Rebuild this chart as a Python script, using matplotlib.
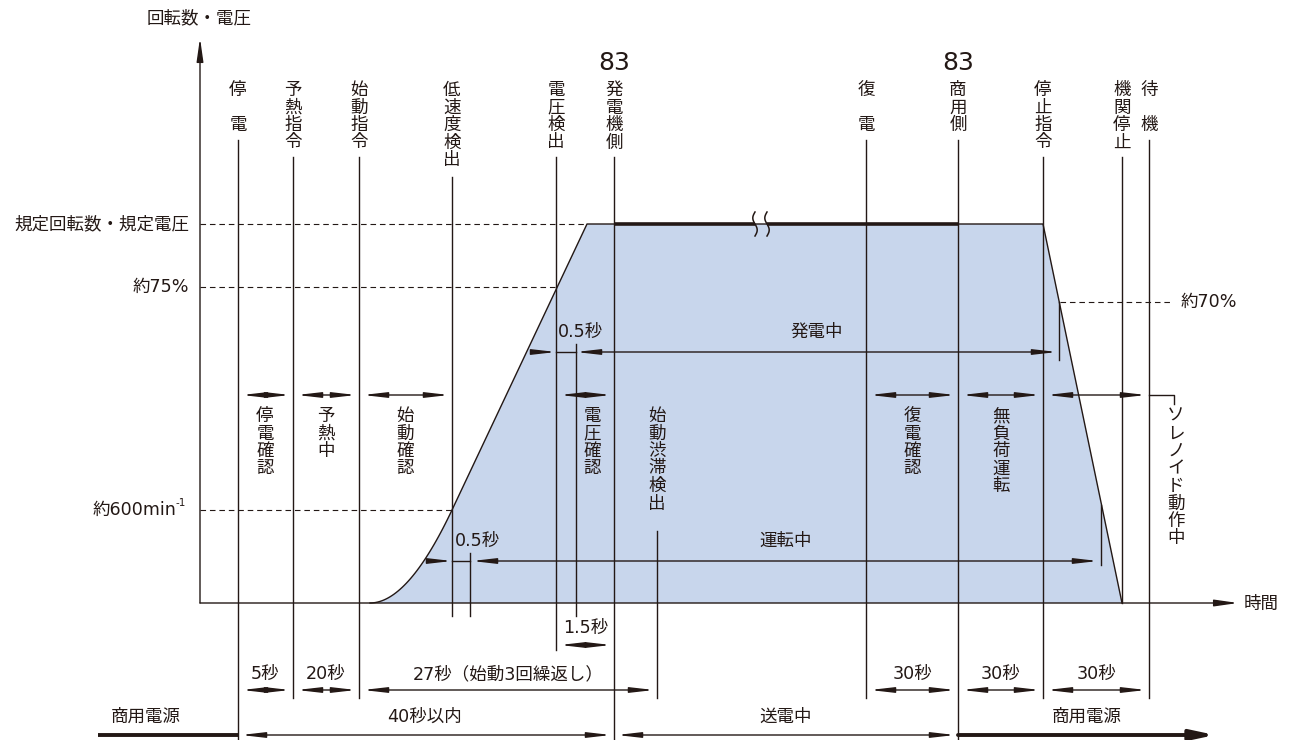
import numpy as np
import matplotlib
matplotlib.use("Agg")
import matplotlib.pyplot as plt
from matplotlib.patches import FancyArrowPatch, Polygon

plt.rcParams['font.family'] = ['DejaVu Sans', 'Noto Sans CJK JP']

INK = '#231815'
FILL = '#c8d6ec'

# ---------------- data (schematic positions, pixel units) ----------------
# vertical level values (y, pixels from top)
level_zero = 603
level_rated = 224
level_75 = 287
level_600 = 510
level_70 = 302

level_labels = ['規定回転数・規定電圧', '約75%']
level_label_y = [level_rated, level_75]

# events along the time axis
event_names = ['停電', '予熱指令', '始動指令', '低速度検出', '電圧検出', '発電機側',
               '復電', '商用側', '停止指令', '機関停止', '待機']
event_t = [238, 293, 359, 452, 556, 614, 866, 958, 1043, 1122, 1149]
event_spaced = [True, False, False, False, False, False, True, False, False, False, True]
event_prefix = ['', '', '', '', '', '83', '', '83', '', '', '']
event_line_end = [740, 698, 698, 616, 650, 740, 698, 740, 698, 603, 698]

# speed / voltage profile
profile_t = [370, 452, 587, 1043, 1122]
profile_y = [level_zero, level_600, level_rated, level_rated, level_zero]
curve_ctrl_t = 408  # control point of the soft-start curve

# phases (double arrow row)
phase_names = ['停電確認', '予熱中', '始動確認', '電圧確認', '復電確認', '無負荷運転', '']
phase_span = [(238, 293), (293, 359), (359, 452), (556, 614), (866, 958), (958, 1043), (1043, 1149)]
phase_label_x = [265, 326, 405, 592, 912, 1001, None]

# durations row
dur_labels = ['5秒', '20秒', '27秒（始動3回繰返し）', '30秒', '30秒', '30秒']
dur_span = [(238, 293), (293, 359), (359, 657), (866, 958), (958, 1043), (1043, 1149)]

# bottom row
bottom_labels = ['商用電源', '40秒以内', '送電中', '商用電源']
bottom_span = [(98, 238), (238, 614), (614, 958), (958, 1215)]
bottom_label_x = [146, 425, 786, 1087]

# ---------------- figure ----------------
fig = plt.figure(figsize=(12.94, 7.40), dpi=100)
ax = fig.add_axes([0, 0, 1, 1])
ax.set_xlim(0, 1294)
ax.set_ylim(740, 0)
ax.axis('off')

FS = 12.6
LW = 1.0


def arrow(x0, y0, x1, y1, style='<|-|>', lw=LW, color=INK, ms=10, hl=1.4, hw=0.16):
    a = FancyArrowPatch((x0, y0), (x1, y1),
                        arrowstyle=f'{style},head_length={hl},head_width={hw}',
                        mutation_scale=ms, lw=lw, color=color,
                        shrinkA=0, shrinkB=0, zorder=5)
    ax.add_patch(a)


def vtext(x, y_top, chars, step=17.5, slots=None, size=FS):
    for i, ch in enumerate(chars):
        k = slots[i] if slots else i
        ax.text(x, y_top + k * step, ch, ha='center', va='center', fontsize=size, color=INK)


# profile fill
t_curve = np.linspace(0, 1, 40)
p0 = np.array([profile_t[0], profile_y[0]])
p1 = np.array([curve_ctrl_t, profile_y[0]])
p2 = np.array([profile_t[1], profile_y[1]])
curve = ((1 - t_curve)[:, None] ** 2) * p0 + (2 * (1 - t_curve) * t_curve)[:, None] * p1 + (t_curve[:, None] ** 2) * p2
pts = list(map(tuple, curve)) + list(zip(profile_t[2:], profile_y[2:]))
poly = Polygon(pts, closed=True, facecolor=FILL, edgecolor='none', zorder=1)
ax.add_patch(poly)
ax.plot([p[0] for p in pts], [p[1] for p in pts], color=INK, lw=LW, zorder=3)

# thick bar on rated level between 83 events (with break)
bar_t0, bar_t1 = event_t[5], event_t[7]
brk0, brk1 = 755, 767
ax.plot([bar_t0, brk0], [level_rated] * 2, color=INK, lw=2.6, zorder=4, solid_capstyle='butt')
ax.plot([brk1, bar_t1], [level_rated] * 2, color=INK, lw=2.6, zorder=4, solid_capstyle='butt')
ys = np.linspace(level_rated - 12, level_rated + 12, 30)
for bx in (brk0, brk1):
    ax.plot(bx + 2.2 * np.sin((ys - level_rated) / 12 * np.pi), ys, color=INK, lw=1.1, zorder=5)

# axes
arrow(200, level_zero, 200, 38, style='-|>', ms=10, hl=1.4, hw=0.2)
arrow(200, level_zero, 1238, level_zero, style='-|>', ms=10, hl=1.4, hw=0.2)
ax.text(199, 18, '回転数・電圧', ha='center', va='center', fontsize=FS, color=INK)
ax.text(1244, 604, '時間', ha='left', va='center', fontsize=FS, color=INK)

# dashed levels
dash = (0, (5, 3.5))
ax.plot([200, 587], [level_rated] * 2, color=INK, lw=0.8, ls=dash, zorder=2)
ax.plot([200, 556], [level_75] * 2, color=INK, lw=0.8, ls=dash, zorder=2)
ax.plot([200, 452], [level_600] * 2, color=INK, lw=0.8, ls=dash, zorder=2)
ax.plot([1060, 1172], [level_70] * 2, color=INK, lw=0.8, ls=dash, zorder=2)
for lab, y in zip(level_labels, level_label_y):
    ax.text(189, y, lab, ha='right', va='center', fontsize=FS, color=INK)
ax.text(176, level_600, '約600min', ha='right', va='center', fontsize=FS, color=INK)
ax.text(176, level_600 - 7, '-1', ha='left', va='center', fontsize=7.5, color=INK)
ax.text(1181, level_70, '約70%', ha='left', va='center', fontsize=FS, color=INK)

# event lines and labels
TOP = 90
STEP = 17.5
for name, t, sp, pre, yend in zip(event_names, event_t, event_spaced, event_prefix, event_line_end):
    if sp:
        slots = [0, 2]
        n = 3
    else:
        slots = None
        n = len(name)
    vtext(t, TOP, name, step=STEP, slots=slots)
    if pre:
        ax.text(t, 63, pre, ha='center', va='center', fontsize=18, color=INK)
    ytop = TOP + n * STEP - 3 + (2 if n == 5 else 0)
    ax.plot([t, t], [ytop, yend], color=INK, lw=LW, zorder=4)

# secondary short lines (0.5 s markers etc.)
ax.plot([470, 470], [553, 616], color=INK, lw=LW, zorder=4)
ax.plot([576, 576], [344, 616], color=INK, lw=LW, zorder=4)
ax.plot([657, 657], [531, 698], color=INK, lw=LW, zorder=4)
ax.plot([1059, 1059], [level_70, 360], color=INK, lw=LW, zorder=4)
ax.plot([1101, 1101], [505, 565], color=INK, lw=LW, zorder=4)
vtext(657, 416, '始動渋滞検出', step=STEP)

# phases row
y_ph = 395
for name, (a, b), lx in zip(phase_names, phase_span, phase_label_x):
    arrow(a + 4, y_ph, b - 3, y_ph)
    if name:
        vtext(lx, 416, name, step=STEP)
# solenoid bracket
ax.plot([1149, 1174, 1174], [y_ph, y_ph, 404], color=INK, lw=LW, zorder=4)
vtext(1176, 416, 'ソレノイド動作中', step=STEP)

# generating / running rows
y_gen = 352
arrow(533, y_gen, 556, y_gen, style='-|>')
ax.plot([556, 576], [y_gen] * 2, color=INK, lw=LW, zorder=4)
arrow(576, y_gen, 1057, y_gen)
ax.text(558, 332, '0.5秒', ha='left', va='center', fontsize=FS, color=INK)
ax.text(817, 332, '発電中', ha='center', va='center', fontsize=FS, color=INK)

y_run = 561
arrow(430, y_run, 452, y_run, style='-|>')
ax.plot([452, 470], [y_run] * 2, color=INK, lw=LW, zorder=4)
arrow(472, y_run, 1098, y_run)
ax.text(455, 541, '0.5秒', ha='left', va='center', fontsize=FS, color=INK)
ax.text(786, 541, '運転中', ha='center', va='center', fontsize=FS, color=INK)

# 1.5 s
arrow(560, 645, 611, 645)
ax.text(586, 628, '1.5秒', ha='center', va='center', fontsize=FS, color=INK)

# durations
y_dur = 690
for lab, (a, b) in zip(dur_labels, dur_span):
    arrow(a + 4, y_dur, b - 3, y_dur)
    ax.text((a + b) / 2, 674, lab, ha='center', va='center', fontsize=FS, color=INK)

# bottom
y_bot = 735
ax.plot([bottom_span[0][0], bottom_span[0][1]], [y_bot] * 2, color=INK, lw=2.8, solid_capstyle='butt', zorder=4)
arrow(bottom_span[1][0] + 3, y_bot, bottom_span[1][1] - 3, y_bot)
arrow(bottom_span[2][0] + 3, y_bot, bottom_span[2][1] - 3, y_bot)
arrow(bottom_span[3][0], y_bot, bottom_span[3][1], y_bot, style='-|>', lw=2.8, ms=10, hl=1.4, hw=0.3)
for lab, lx in zip(bottom_labels, bottom_label_x):
    ax.text(lx, 717, lab, ha='center', va='center', fontsize=FS, color=INK)

fig.savefig('out.png', dpi=100)
